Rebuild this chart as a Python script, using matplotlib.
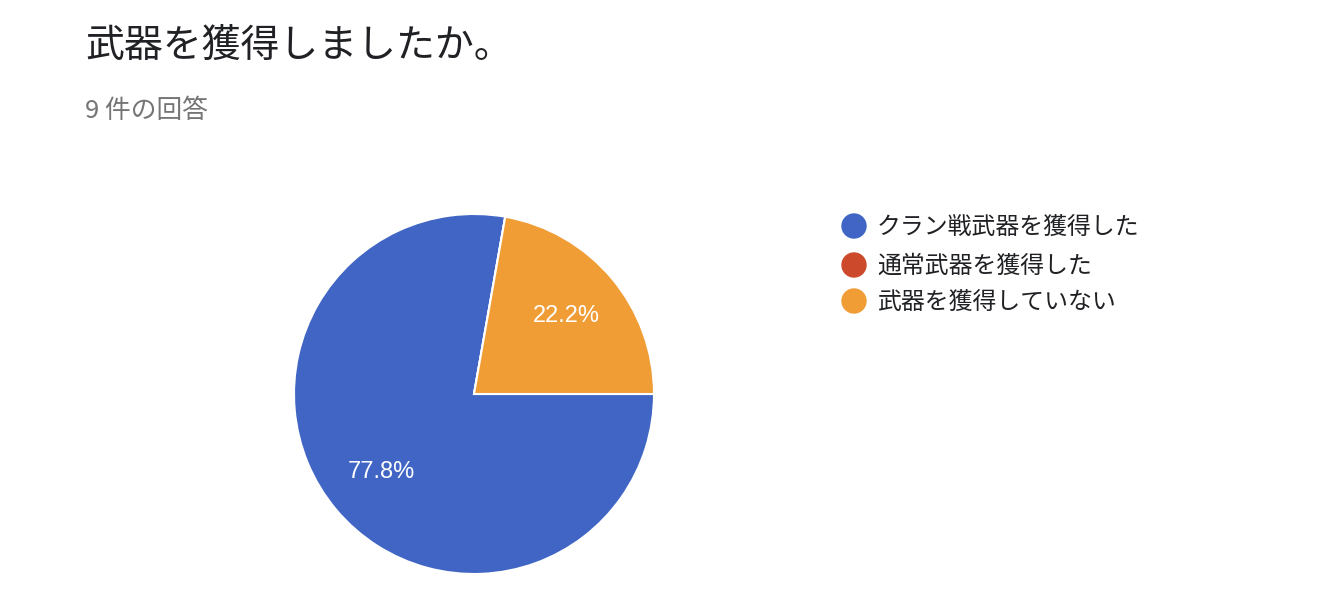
import matplotlib
matplotlib.use("Agg")
import matplotlib.pyplot as plt
from matplotlib.patches import Ellipse

plt.rcParams['font.family'] = ['Noto Sans CJK JP', 'DejaVu Sans']

labels = ["クラン戦武器を獲得した", "通常武器を獲得した", "武器を獲得していない"]
counts = [7, 0, 2]
colors = ["#4065c4", "#cc4a2b", "#f09d36"]
title = "武器を獲得しましたか。"
subtitle = "9 件の回答"

fig = plt.figure(figsize=(13.34, 5.99), dpi=100)
fig.patch.set_facecolor("white")

fig.text(85 / 1334, 1 - 46 / 599, title, fontsize=28, va="center", ha="left", color="#202124")
fig.text(85 / 1334, 1 - 111 / 599, subtitle, fontsize=18.5, va="center", ha="left", color="#757575")

# pie: centre (474, 394), radius 180 px
r = 180
ax = fig.add_axes([(474 - r) / 1334, (599 - 394 - r) / 599, 2 * r / 1334, 2 * r / 599])
wedges, texts, autotexts = ax.pie(
    counts, colors=colors, startangle=0, counterclock=False,
    autopct=lambda p: f"{p:.1f}%" if p > 0 else "",
    pctdistance=0.67, radius=1.0,
    wedgeprops=dict(edgecolor="white", linewidth=1.5),
    textprops=dict(color="white", fontsize=17, family=["Liberation Sans", "DejaVu Sans"]),
)
ax.set_xlim(-1, 1)
ax.set_ylim(-1, 1)
ax.set_aspect("equal")
ax.axis("off")

# legend
ys = [226, 265, 301]
for lab, col, y in zip(labels, colors, ys):
    fig.add_artist(Ellipse((854 / 1334, 1 - y / 599), 24 / 1334, 24 / 599,
                           transform=fig.transFigure, color=col))
    fig.text(877 / 1334, 1 - (y + 1) / 599, lab, fontsize=17.2, va="center", ha="left", color="#202124")

fig.savefig("out.png", dpi=100, facecolor="white")
